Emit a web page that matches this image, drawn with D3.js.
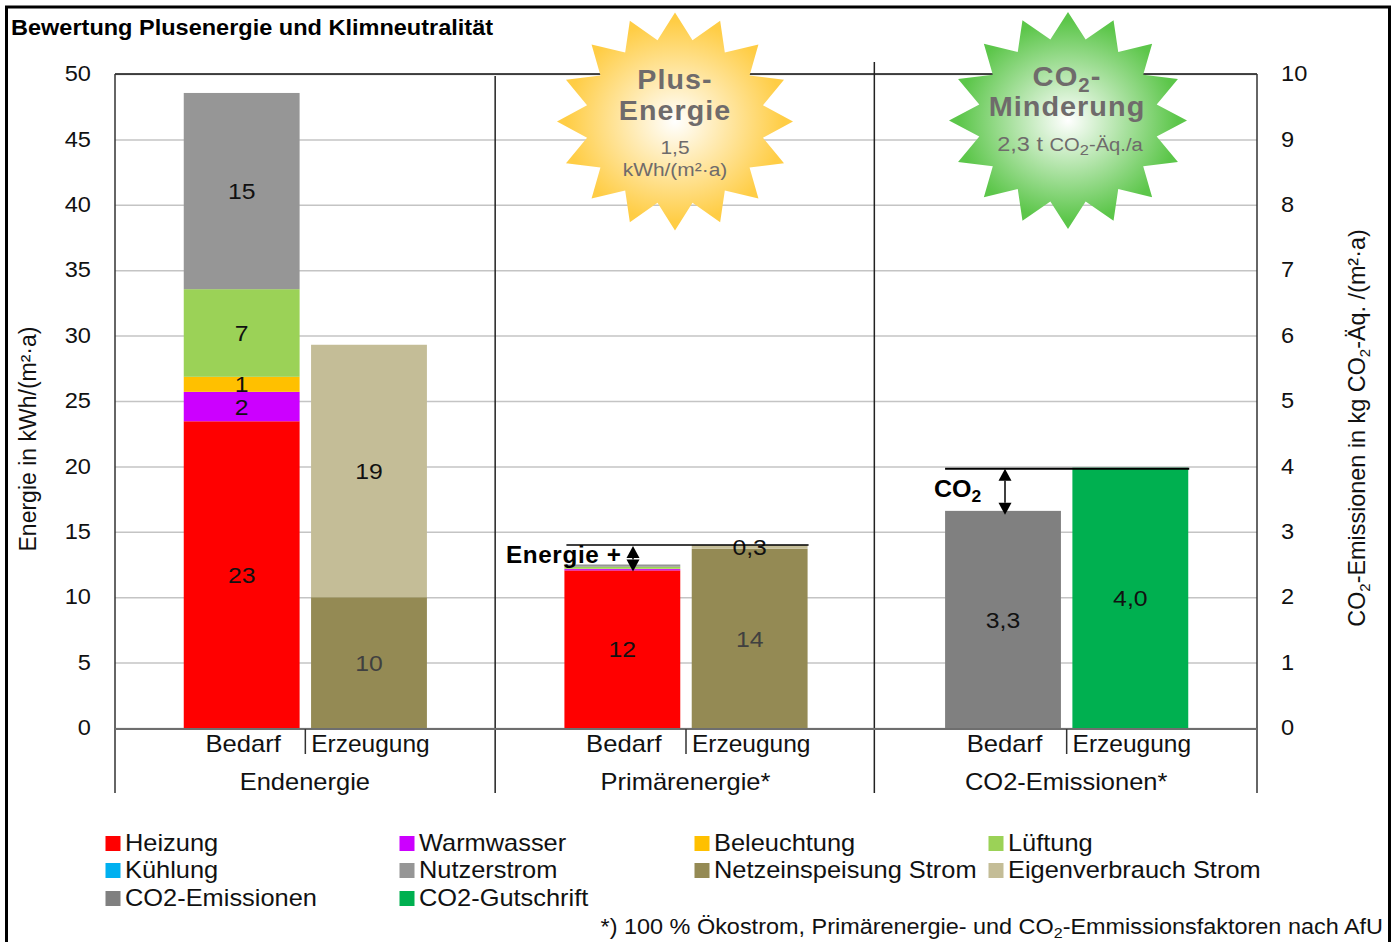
<!DOCTYPE html>
<html lang="de">
<head>
  <meta charset="UTF-8">
  <title>Bewertung Plusenergie und Klimneutralität</title>
  <style>
    html, body { margin: 0; padding: 0; background: #fff; overflow: hidden; }
    svg { display: block; }
    text { font-family: "Liberation Sans", Arial, sans-serif; fill: #111; }
    .grid .domain { display: none; }
    .grid line { stroke: #c4c4c4; stroke-width: 1.5; }
    .grid text, .y2 text { font-size: 22.5px; }
    .y2 .domain, .y2 line { display: none; }
  </style>
</head>
<body>
  <script src="https://d3js.org/d3.v7.min.js"></script>
  <script>
    // chart data
    const groups = ['Endenergie', 'Primärenergie*', 'CO2-Emissionen*'];
    const kinds = ['Bedarf', 'Erzeugung'];
    const seriesNames = ['Heizung', 'Warmwasser', 'Beleuchtung', 'Lüftung', 'Kühlung', 'Nutzerstrom',
      'Netzeinspeisung Strom', 'Eigenverbrauch Strom', 'CO2-Emissionen', 'CO2-Gutschrift'];
    const seriesColors = ['#ff0000', '#cc00ff', '#ffc000', '#9bd257', '#00b0f0', '#969696',
      '#948a54', '#c4bd97', '#808080', '#00b050'];
    // one value per bar: End/Bedarf, End/Erzeugung, Prim/Bedarf, Prim/Erzeugung, CO2/Bedarf, CO2/Erzeugung
    const heizung = [23.45, 0, 12.05, 0, 0, 0];
    const warmwasser = [2.25, 0, 0.1, 0, 0, 0];
    const beleuchtung = [1.15, 0, 0.03, 0, 0, 0];
    const lueftung = [6.7, 0, 0.15, 0, 0, 0];
    const kuehlung = [0, 0, 0, 0, 0, 0];
    const nutzerstrom = [15, 0, 0.17, 0, 0, 0];
    const netz = [0, 10, 0, 13.7, 0, 0];
    const eigen = [0, 19.3, 0, 0.3, 0, 0];
    const co2Emissionen = [0, 0, 0, 0, 3.32, 0];
    const co2Gutschrift = [0, 0, 0, 0, 0, 3.98];
    const seriesValues = [heizung, warmwasser, beleuchtung, lueftung, kuehlung, nutzerstrom,
      netz, eigen, co2Emissionen, co2Gutschrift];
    const leftTicks = [0, 5, 10, 15, 20, 25, 30, 35, 40, 45, 50];
    const rightTicks = [0, 1, 2, 3, 4, 5, 6, 7, 8, 9, 10];

    const WIDTH = 1398;
    const HEIGHT = 942;
    const margin = {top: 74, right: 141, bottom: 214, left: 115};
    const innerWidth = WIDTH - margin.left - margin.right;
    const innerHeight = HEIGHT - margin.top - margin.bottom;

    const svg = d3.select('body').append('svg')
      .attr('width', WIDTH)
      .attr('height', HEIGHT);

    const scaleGroup = d3.scaleBand().domain(groups).range([margin.left, margin.left + innerWidth]);
    const scaleKind = d3.scaleBand().domain(kinds).range([0, scaleGroup.bandwidth()])
      .paddingInner(0.09).paddingOuter(0.54);
    const scaleY = d3.scaleLinear().domain([0, 50]).range([margin.top + innerHeight, margin.top]);
    const scaleY2 = d3.scaleLinear().domain([0, 10]).range([margin.top + innerHeight, margin.top]);

    // flat list of bars, in the order of the value arrays
    const bars = groups.flatMap(g => kinds.map(k => ({group: g, kind: k})));
    const stackRows = bars.map((b, i) => {
      const row = {};
      seriesNames.forEach((s, j) => { row[s] = seriesValues[j][i]; });
      return row;
    });
    const stacked = d3.stack().keys(seriesNames)(stackRows);
    const barX = i => scaleGroup(bars[i].group) + scaleKind(bars[i].kind);
    const yFor = i => bars[i].group === groups[2] ? scaleY2 : scaleY;
    const barTop = i => yFor(i)(d3.sum(seriesValues, v => v[i]));

    const defs = svg.append('defs');
    addGradient('sunGold', '#ffcd45');
    addGradient('sunGreen', '#5cc64a');

    // grid lines + left axis
    svg.append('g')
      .attr('class', 'grid')
      .attr('transform', `translate(${margin.left},0)`)
      .call(d3.axisLeft(scaleY).tickValues(leftTicks).tickSize(-innerWidth).tickPadding(24))
      .selectAll('text').attr('dy', '0.3em').call(stretch, 1.05);

    svg.append('g')
      .attr('class', 'y2')
      .attr('transform', `translate(${margin.left + innerWidth},0)`)
      .call(d3.axisRight(scaleY2).tickValues(rightTicks).tickSize(0).tickPadding(24))
      .selectAll('text').attr('dy', '0.3em').call(stretch, 1.05);

    // frame of the plot
    const plotLine = (x1, y1, x2, y2, color, w) => svg.append('line')
      .attr('x1', x1).attr('y1', y1).attr('x2', x2).attr('y2', y2)
      .attr('stroke', color).attr('stroke-width', w);

    const y0 = scaleY(0);
    const plotRight = margin.left + innerWidth;
    plotLine(margin.left, margin.top, plotRight, margin.top, '#111', 1.5);
    plotLine(margin.left, margin.top, margin.left, y0 + 65, '#333', 1.5);
    plotLine(plotRight, margin.top, plotRight, y0 + 65, '#333', 1.5);
    plotLine(scaleGroup(groups[1]) - 0.5, margin.top + 2, scaleGroup(groups[1]) - 0.5, y0 + 65, '#222', 1.5);
    plotLine(scaleGroup(groups[2]) - 2, margin.top - 12, scaleGroup(groups[2]) - 2, y0 + 65, '#222', 1.5);

    // stacked bars
    svg.append('g').selectAll('g')
      .data(stacked)
      .join('g')
      .attr('fill', (d, i) => seriesColors[i])
      .selectAll('rect')
      .data(d => d.map((v, i) => ({v, i})).filter(o => o.v[1] > o.v[0]))
      .join('rect')
      .attr('x', d => barX(d.i))
      .attr('width', scaleKind.bandwidth())
      .attr('y', d => yFor(d.i)(d.v[1]))
      .attr('height', d => yFor(d.i)(d.v[0]) - yFor(d.i)(d.v[1]));

    plotLine(margin.left, y0 + 1, plotRight, y0 + 1, '#6e6e6e', 2);

    // value labels inside the segments
    const labelText = (value, i) => {
      const oneDecimal = bars[i].group === groups[2] || value < 1;
      return d3.format(oneDecimal ? '.1f' : '.0f')(value).replace('.', ',');
    };
    const darkLabels = ['Netzeinspeisung Strom'];
    svg.append('g').selectAll('g')
      .data(stacked)
      .join('g')
      .selectAll('text')
      .data(d => d.map((v, i) => ({v, i, key: d.key})).filter(o => o.v[1] - o.v[0] >= 0.3))
      .join('text')
      .attr('x', d => barX(d.i) + scaleKind.bandwidth() / 2)
      .attr('y', d => yFor(d.i)((d.v[0] + d.v[1]) / 2))
      .attr('dy', '0.36em')
      .attr('text-anchor', 'middle')
      .attr('font-size', 22.5)
      .style('fill', d => darkLabels.includes(d.key) ? '#404040' : '#111')
      .text(d => labelText(d.v[1] - d.v[0], d.i))
      .call(stretch, 1.1);

    // category labels under the axis
    bars.forEach((b, i) => {
      svg.append('text')
        .attr('x', barX(i) + scaleKind.bandwidth() / 2 + 1.5)
        .attr('y', y0 + 24)
        .attr('text-anchor', 'middle')
        .attr('font-size', 23)
        .text(b.kind)
        .call(stretch, i % 2 ? 1.065 : 1.115);
    });
    groups.forEach(g => {
      const cx = scaleGroup(g) + scaleGroup.bandwidth() / 2;
      plotLine(cx, y0 + 1, cx, y0 + 26, '#333', 1.5);
      svg.append('text')
        .attr('x', cx - 0.5)
        .attr('y', y0 + 62)
        .attr('text-anchor', 'middle')
        .attr('font-size', 23)
        .text(g)
        .call(stretch, 1.108);
    });

    // difference markers
    const primBedarf = 2, primErz = 3, co2Bedarf = 4, co2Erz = 5;
    plotLine(barX(primBedarf) + 2, barTop(primErz), barX(primErz) + scaleKind.bandwidth() + 1, barTop(primErz), '#000', 1.5);
    plotLine(barX(co2Bedarf), barTop(co2Erz) + 1, barX(co2Erz) + scaleKind.bandwidth() + 1, barTop(co2Erz) + 1, '#000', 2);
    doubleArrow(633, barTop(primErz) + 1, barTop(primBedarf) + 7);
    doubleArrow(1005, barTop(co2Erz) + 1, barTop(co2Bedarf) + 4);

    richText(svg.append('text').attr('x', 506).attr('y', 563).attr('font-size', 23)
      .attr('font-weight', 'bold').style('letter-spacing', '0.6px').style('fill', '#000'),
      [['Energie +']], 16).call(stretch, 1.055);
    richText(svg.append('text').attr('x', 934).attr('y', 497).attr('font-size', 23)
      .attr('font-weight', 'bold').style('fill', '#000'),
      [['CO'], ['2', 'sub']], 16).call(stretch, 1.09);

    // badges
    star(675, 121.5, 118, 109, 'sunGold');
    star(1068, 120.5, 119, 108.5, 'sunGreen');
    const badgeGrey = '#6f6b6b';
    const badge = (x, y, size, weight, parts, k) => richText(svg.append('text')
      .attr('x', x).attr('y', y).attr('text-anchor', 'middle')
      .attr('font-size', size).attr('font-weight', weight)
      .style('letter-spacing', (weight === 'bold' ? 1 : 0) + 'px').style('fill', badgeGrey), parts, size * 0.7)
      .call(stretch, k);
    badge(675, 89, 27, 'bold', [['Plus-']], 1.06);
    badge(675, 120, 27, 'bold', [['Energie']], 1.06);
    badge(675, 154, 19, 'normal', [['1,5']], 1.1);
    badge(675, 176, 19, 'normal', [['kWh/(m²·a)']], 1.1);
    badge(1067, 86, 28, 'bold', [['CO'], ['2', 'sub'], ['-']], 1.04);
    badge(1067, 116, 28, 'bold', [['Minderung']], 1.03);
    badge(1070, 151, 21, 'normal', [['2,3 t '], ['CO', 'small'], ['2', 'sub'], ['-Äq./a', 'small']], 1.12);

    // titles
    svg.append('text').attr('x', 11).attr('y', 35).attr('font-size', 22)
      .attr('font-weight', 'bold').style('fill', '#000')
      .text('Bewertung Plusenergie und Klimneutralität')
      .call(stretch, 1.069);

    svg.append('text')
      .attr('transform', 'translate(36,439) rotate(-90)')
      .attr('text-anchor', 'middle')
      .attr('font-size', 23)
      .text('Energie in kWh/(m²·a)');

    richText(svg.append('text')
      .attr('transform', 'translate(1365,428) rotate(-90)')
      .attr('text-anchor', 'middle')
      .attr('font-size', 23.4),
      [['CO'], ['2', 'sub'], ['-Emissionen in kg CO'], ['2', 'sub'], ['-Äq. /(m²·a)']], 15);

    // legend
    const legendCols = [105.5, 399.5, 694.5, 988.5];
    const legendRows = [843, 870, 898];
    const legend = svg.append('g').selectAll('g')
      .data(seriesNames)
      .join('g')
      .attr('transform', (d, i) => `translate(${legendCols[i % 4]},${legendRows[Math.floor(i / 4)]})`);
    legend.append('rect')
      .attr('y', -7).attr('width', 15).attr('height', 15)
      .attr('fill', (d, i) => seriesColors[i]);
    legend.append('text')
      .attr('x', 19.5).attr('y', 8)
      .attr('font-size', 23)
      .text(d => d)
      .call(stretch, 1.105);

    richText(svg.append('text').attr('x', 1383).attr('y', 934).attr('text-anchor', 'end').attr('font-size', 22),
      [['*) 100 % Ökostrom, Primärenergie- und CO'], ['2', 'sub'], ['-Emmissionsfaktoren nach AfU']], 15)
      .call(stretch, 1.066);

    // outer border, open at the bottom
    svg.append('path')
      .attr('d', `M6.5,${HEIGHT} V7 H1389.5 V${HEIGHT}`)
      .attr('fill', 'none')
      .attr('stroke', '#000')
      .attr('stroke-width', 3);

    // the reference is a horizontally stretched picture, so its glyphs are wider than the font's
    function stretch (sel, k) {
      sel.each(function () {
        const t = d3.select(this);
        const x = +t.attr('x') || 0;
        const y = +t.attr('y') || 0;
        t.attr('x', null).attr('y', null)
          .attr('transform', `translate(${x},${y}) scale(${k},1)`);
      });
    }

    // text made of plain parts and lowered subscripts
    function richText (sel, parts, subSize) {
      const base = +sel.attr('font-size');
      let shifted = 0;
      parts.forEach(([str, mode]) => {
        const t = sel.append('tspan').text(str);
        const target = mode === 'sub' ? base * 0.2 : 0;
        t.attr('dy', target - shifted);
        shifted = target;
        if (mode === 'sub') t.attr('font-size', subSize);
        if (mode === 'small') t.attr('font-size', base * 0.86);
      });
      return sel;
    }

    function addGradient (id, edge) {
      const g = defs.append('radialGradient').attr('id', id)
        .attr('cx', '50%').attr('cy', '50%').attr('r', '46%');
      g.append('stop').attr('offset', '0%').attr('stop-color', '#ffffff');
      g.append('stop').attr('offset', '100%').attr('stop-color', edge);
    }

    function star (cx, cy, rx, ry, fillId) {
      const spikes = 16;
      const pts = d3.range(spikes * 2).map(i => {
        const a = i * Math.PI / spikes;
        const k = i % 2 ? 0.76 : 1;
        return [cx + rx * k * Math.sin(a), cy - ry * k * Math.cos(a)];
      });
      svg.append('path')
        .attr('d', d3.line()(pts) + 'Z')
        .attr('fill', `url(#${fillId})`);
    }

    function doubleArrow (x, top, bottom) {
      const head = 12;
      const half = 6.5;
      const g = svg.append('g').attr('fill', '#000');
      plotLine(x, top + head, x, bottom - head, '#000', 1.5);
      g.append('path').attr('d', d3.line()([[x, top], [x + half, top + head], [x - half, top + head]]) + 'Z');
      g.append('path').attr('d', d3.line()([[x, bottom], [x + half, bottom - head], [x - half, bottom - head]]) + 'Z');
    }
  </script>
</body>
</html>
